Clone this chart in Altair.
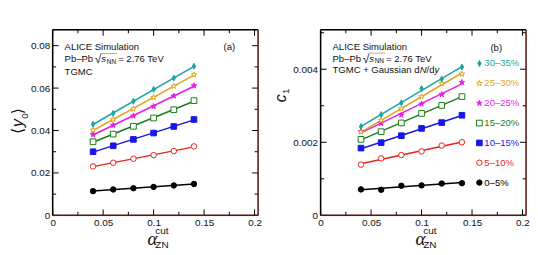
import altair as alt
import pandas as pd

FONT = "Liberation Sans"

# ---------------- data ----------------
alpha_cut = [0.04, 0.06, 0.08, 0.10, 0.12, 0.14]
centralities = ["0–5%", "5–10%", "10–15%", "15–20%", "20–25%", "25–30%", "30–35%"]

# panel (a): <y0>
y0_c00_05 = [0.0114, 0.0122, 0.0128, 0.0134, 0.0141, 0.0148]
y0_c05_10 = [0.0231, 0.0248, 0.0267, 0.0284, 0.0303, 0.0325]
y0_c10_15 = [0.0300, 0.0328, 0.0358, 0.0388, 0.0419, 0.0452]
y0_c15_20 = [0.0347, 0.0383, 0.0420, 0.0459, 0.0498, 0.0541]
y0_c20_25 = [0.0381, 0.0425, 0.0469, 0.0514, 0.0563, 0.0611]
y0_c25_30 = [0.0402, 0.0452, 0.0502, 0.0556, 0.0609, 0.0663]
y0_c30_35 = [0.0430, 0.0481, 0.0538, 0.0594, 0.0647, 0.0703]

# panel (b): c1
c1_c00_05 = [0.00071, 0.00070, 0.00081, 0.00082, 0.00087, 0.00088]
c1_c05_10 = [0.00139, 0.00156, 0.00165, 0.00175, 0.00191, 0.00200]
c1_c10_15 = [0.00184, 0.00199, 0.00218, 0.00238, 0.00254, 0.00274]
c1_c15_20 = [0.00208, 0.00229, 0.00253, 0.00279, 0.00301, 0.00325]
c1_c20_25 = [0.00230, 0.00252, 0.00275, 0.00305, 0.00331, 0.00364]
c1_c25_30 = [0.00228, 0.00260, 0.00292, 0.00325, 0.00361, 0.00387]
c1_c30_35 = [0.00243, 0.00276, 0.00308, 0.00347, 0.00373, 0.00406]

# axis ticks
x_major = [0, 0.05, 0.1, 0.15, 0.2]
x_minor = [0.025, 0.075, 0.125, 0.175]
ya_major = [0, 0.02, 0.04, 0.06, 0.08]
ya_minor = [0.01, 0.03, 0.05, 0.07]
yb_major = [0, 0.002, 0.004]
yb_minor = [0.001, 0.003, 0.005]

# ---------------- styles ----------------
STAR = ("M0,-1L0.2245,-0.309L0.951,-0.309L0.363,0.118L0.588,0.809L0,0.382"
        "L-0.588,0.809L-0.363,0.118L-0.951,-0.309L-0.2245,-0.309Z")
DIAMOND = "M0,-1L0.55,0L0,1L-0.55,0Z"
line_colors = ["#000000", "#e8231f", "#1717e6", "#1a7f1a", "#e61ee6", "#e0a51e", "#1aa5a5"]
fill_colors = ["#000000", "#ffffff", "#1717e6", "#ffffff", "#e61ee6", "#ffffff", "#1aa5a5"]
shapes = ["circle", "circle", "square", "square", STAR, STAR, DIAMOND]
sizes = [30, 36, 30, 40, 40, 75, 40]

W, H = 207, 187
XMAX = 0.2035
FRAME_RED = "#5a1414"


def long_df(series):
    rows = []
    for c, vals in zip(centralities, series):
        for a, v in zip(alpha_cut, vals):
            rows.append({"cent": c, "alpha": a, "val": v})
    return pd.DataFrame(rows)


df_a = long_df([y0_c00_05, y0_c05_10, y0_c10_15, y0_c15_20, y0_c20_25, y0_c25_30, y0_c30_35])
df_b = long_df([c1_c00_05, c1_c05_10, c1_c10_15, c1_c15_20, c1_c20_25, c1_c25_30, c1_c30_35])
one = pd.DataFrame({"k": [0]})

color_enc = alt.Color("cent:N", scale=alt.Scale(domain=centralities, range=line_colors), legend=None)
fill_enc = alt.Fill("cent:N", scale=alt.Scale(domain=centralities, range=fill_colors), legend=None)
shape_enc = alt.Shape("cent:N", scale=alt.Scale(domain=centralities, range=shapes), legend=None)
size_enc = alt.Size("cent:N", scale=alt.Scale(domain=centralities, range=sizes), legend=None)


def txt(s, x, y, size=9.6, italic=False, font=FONT, align="left", angle=0, color="#111111"):
    kw = dict(text=s, align=align, baseline="middle", fontSize=size, font=font,
              fontStyle="italic" if italic else "normal", color=color)
    if angle:
        kw["angle"] = angle
    return alt.Chart(one).mark_text(**kw).encode(x=alt.value(x), y=alt.value(y))


def hline(x1, x2, y, color="black", width=1.5):
    return alt.Chart(one).mark_rule(color=color, strokeWidth=width).encode(
        x=alt.value(x1), x2=alt.value(x2), y=alt.value(y))


def vline(x, y1, y2, color="black", width=1.5):
    return alt.Chart(one).mark_rule(color=color, strokeWidth=width).encode(
        x=alt.value(x), y=alt.value(y1), y2=alt.value(y2))


def panel(df, ydom, ymaj, ymin, texts, with_legend):
    xaxis = alt.Axis(values=x_major, labelExpr="format(datum.value, '~g')", ticks=False,
                     domain=False, grid=False, title=None, labelFont=FONT, labelFontSize=10,
                     labelPadding=2, labelColor="#111111", labelFlush=False, labelOverlap=False)
    yaxis = alt.Axis(values=ymaj, labelExpr="format(datum.value, '~g')", ticks=False,
                     domain=False, grid=False, title=None, labelFont=FONT, labelFontSize=10,
                     labelPadding=3, labelColor="#111111", labelFlush=False, labelOverlap=False)
    xs = alt.Scale(domain=[0, XMAX], nice=False, zero=False)
    ys = alt.Scale(domain=ydom, nice=False, zero=False)

    def X(f):
        return alt.X(f"{f}:Q", scale=xs, axis=xaxis)

    def Y(f):
        return alt.Y(f"{f}:Q", scale=ys, axis=yaxis)

    layers = []
    # invisible anchor fixing the left / top / bottom extent of the panel
    layers.append(vline(-44, -1, H + 29, color="transparent", width=0.01))
    # inward ticks on all four sides
    for vals, ln in ((x_major, 6), (x_minor, 3.5)):
        d = pd.DataFrame({"t": vals})
        layers.append(alt.Chart(d).mark_rule(color="black", strokeWidth=1).encode(
            x=X("t"), y=alt.value(H), y2=alt.value(H - ln)))
        layers.append(alt.Chart(d).mark_rule(color="black", strokeWidth=1).encode(
            x=X("t"), y=alt.value(0), y2=alt.value(ln)))
    for vals, ln in ((ymaj, 6), (ymin, 3.5)):
        d = pd.DataFrame({"t": vals})
        layers.append(alt.Chart(d).mark_rule(color="black", strokeWidth=1).encode(
            y=Y("t"), x=alt.value(0), x2=alt.value(ln)))
        layers.append(alt.Chart(d).mark_rule(color="black", strokeWidth=1).encode(
            y=Y("t"), x=alt.value(W), x2=alt.value(W - ln)))

    base = alt.Chart(df)
    lines = base.transform_regression("alpha", "val", groupby=["cent"]).mark_line(
        strokeWidth=1.5).encode(x=X("alpha"), y=Y("val"), color=color_enc, detail="cent:N")
    points = base.mark_point(filled=False, opacity=1, strokeWidth=1).encode(
        x=X("alpha"), y=Y("val"), color=color_enc, fill=fill_enc, shape=shape_enc, size=size_enc)
    layers += [lines, points]

    # frame
    layers += [hline(0, W, 0), vline(0, 0, H),
               hline(0, W, H, FRAME_RED), vline(W, 0, H, FRAME_RED)]
    layers += texts

    main = alt.layer(*layers)
    if with_legend:
        ld = pd.DataFrame({"cent": centralities})
        ly = alt.Y("cent:N", scale=alt.Scale(type="point", domain=centralities[::-1],
                                             range=[34, 154], padding=0), axis=None)
        lmark = alt.Chart(ld).mark_point(filled=False, opacity=1, strokeWidth=1).encode(
            x=alt.value(160), y=ly, color=color_enc, fill=fill_enc, shape=shape_enc, size=size_enc)
        ltext = alt.Chart(ld).mark_text(align="left", baseline="middle", font=FONT,
                                        fontSize=9.6).encode(
            x=alt.value(165), y=ly, text="cent:N", color=color_enc)
        main = alt.layer(main, alt.layer(lmark, ltext)).resolve_scale(y="independent")
    return main.properties(width=W, height=H)


def sqrt_s(y):
    return [txt("√", 42.5, y, size=12),
            txt("s", 49, y, italic=True),
            txt("NN", 54.5, y + 2.5, size=6.5),
            hline(48, 65, y - 5.5, color="#888888", width=0.7),
            txt("= 2.76 TeV", 66, y)]


def xtitle():
    return [txt("α", 100.5, 211, size=19, italic=True, font="Liberation Serif", align="center"),
            txt("cut", 103.5, 203, size=10),
            txt("ZN", 103.5, 217, size=10)]


texts_a = ([txt("ALICE Simulation", 12, 17), txt("Pb–Pb", 12, 29.5)] + sqrt_s(29.5) +
           [txt("TGMC", 12, 43), txt("(a)", 178, 17, align="center")] + xtitle() +
           [txt("⟨", -35, 102, size=16, font="DejaVu Sans", align="center", angle=270),
            txt("y", -35, 94, size=16, italic=True, align="center", angle=270),
            txt("0", -28, 87, size=10, align="center", angle=270),
            txt("⟩", -35, 82, size=16, font="DejaVu Sans", align="center", angle=270)])

texts_b = ([txt("ALICE Simulation", 12, 17), txt("Pb–Pb", 12, 29)] + sqrt_s(29) +
           [txt("TGMC + Gaussian d", 12, 40.5), txt("N", 99.8, 40.5, italic=True),
            txt("/d", 106.7, 40.5), txt("y", 114.7, 40.5, italic=True),
            txt("(b)", 177, 18, align="center")] + xtitle() +
           [txt("c", -40, 69, size=16, italic=True, align="center", angle=270),
            txt("1", -35, 62, size=10, align="center", angle=270)])

left = panel(df_a, [0, 0.0875], ya_major, ya_minor, texts_a, False)
right = panel(df_b, [0, 0.00508], yb_major, yb_minor, texts_b, True)

chart = alt.hconcat(left, right, spacing=63, bounds="flush").properties(
    padding={"left": 0, "top": 19, "right": 0, "bottom": 0},
).configure_view(stroke=None).configure(background="white")

chart.save("out.html", embed_options={"renderer": "svg", "actions": False})
